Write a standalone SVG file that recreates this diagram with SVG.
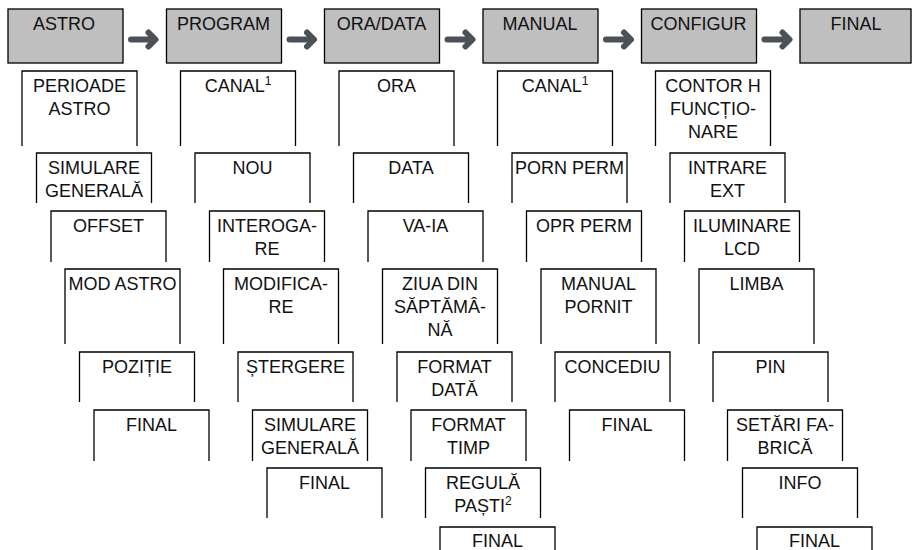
<svg xmlns="http://www.w3.org/2000/svg" width="912" height="550" viewBox="0 0 912 550">
<defs>
<style>
.hdr{fill:#bfbfbf;stroke:#000;stroke-width:1.3}
.sub{fill:none;stroke:#000;stroke-width:1.3}
text{font-family:"Liberation Sans",Arial,Helvetica,sans-serif;font-size:18px;fill:#111;text-anchor:middle}
.sup{font-size:12px}
.arr{fill:none;stroke:#4b5157;stroke-width:6;stroke-linecap:round;stroke-linejoin:round}
</style>
</defs>
<rect width="912" height="550" fill="#fff"/>
<g id="connectors">
<path class="arr" d="M131 39.5H155M148.5 32.5L155.5 39.5L148.5 46.5"/>
<path class="arr" d="M289.5 39.5H313.5M307 32.5L314 39.5L307 46.5"/>
<path class="arr" d="M447.5 39.5H472M465.5 32.5L472.5 39.5L465.5 46.5"/>
<path class="arr" d="M606 39.5H630.5M624 32.5L631 39.5L624 46.5"/>
<path class="arr" d="M764.5 39.5H789M782.5 32.5L789.5 39.5L782.5 46.5"/>
</g>
<g id="h-astro"><rect class="hdr" x="8" y="9" width="115" height="54"/><text x="64" y="30">ASTRO</text></g>
<g id="h-program"><rect class="hdr" x="166.5" y="9" width="115" height="54"/><text x="223.5" y="30">PROGRAM</text></g>
<g id="h-oradata"><rect class="hdr" x="324.5" y="9" width="115" height="54"/><text x="381.5" y="30">ORA/DATA</text></g>
<g id="h-manual"><rect class="hdr" x="483" y="9" width="115" height="54"/><text x="540" y="30">MANUAL</text></g>
<g id="h-configur"><rect class="hdr" x="641.5" y="9" width="115" height="54"/><text x="698.5" y="30">CONFIGUR</text></g>
<g id="h-final"><rect class="hdr" x="800" y="9" width="111" height="54"/><text x="856" y="30">FINAL</text></g>

<g id="a0"><path class="sub" d="M22 146V71H137V146"/><text x="79.5" y="92">PERIOADE</text><text x="79.5" y="115">ASTRO</text></g>
<g id="a1"><path class="sub" d="M36.5 203V153H151.5V203"/><text x="94" y="174">SIMULARE</text><text x="94" y="197">GENERALĂ</text></g>
<g id="a2"><path class="sub" d="M51 262V211H166V262"/><text x="108.5" y="232">OFFSET</text></g>
<g id="a3"><path class="sub" d="M65 344V269H180V344"/><text x="122.5" y="290">MOD ASTRO</text></g>
<g id="a4"><path class="sub" d="M79.5 402V352H194.5V402"/><text x="137" y="373">POZIȚIE</text></g>
<g id="a5"><path class="sub" d="M94 461V410H209V461"/><text x="151.5" y="431">FINAL</text></g>

<g id="p0"><path class="sub" d="M180.5 146V71H295.5V146"/><text x="238" y="92">CANAL<tspan class="sup" dy="-7">1</tspan></text></g>
<g id="p1"><path class="sub" d="M195 203V153H310V203"/><text x="252.5" y="174">NOU</text></g>
<g id="p2"><path class="sub" d="M209.5 262V211H324.5V262"/><text x="267" y="232">INTEROGA-</text><text x="267" y="255">RE</text></g>
<g id="p3"><path class="sub" d="M223.5 344V269H338.5V344"/><text x="281" y="290">MODIFICA-</text><text x="281" y="313">RE</text></g>
<g id="p4"><path class="sub" d="M238 402V352H353V402"/><text x="295.5" y="373">ȘTERGERE</text></g>
<g id="p5"><path class="sub" d="M252.5 461V410H367.5V461"/><text x="310" y="431">SIMULARE</text><text x="310" y="454">GENERALĂ</text></g>
<g id="p6"><path class="sub" d="M267 518V468H382V518"/><text x="324.5" y="489">FINAL</text></g>

<g id="o0"><path class="sub" d="M339 146V71H454V146"/><text x="396.5" y="92">ORA</text></g>
<g id="o1"><path class="sub" d="M353.5 203V153H468.5V203"/><text x="411" y="174">DATA</text></g>
<g id="o2"><path class="sub" d="M368 262V211H483V262"/><text x="425.5" y="232">VA-IA</text></g>
<g id="o3"><path class="sub" d="M382.5 344V269H497.5V344"/><text x="440" y="290">ZIUA DIN</text><text x="440" y="313">SĂPTĂMÂ-</text><text x="440" y="336">NĂ</text></g>
<g id="o4"><path class="sub" d="M397 402V352H512V402"/><text x="454.5" y="373">FORMAT</text><text x="454.5" y="396">DATĂ</text></g>
<g id="o5"><path class="sub" d="M411 461V410H526V461"/><text x="468.5" y="431">FORMAT</text><text x="468.5" y="454">TIMP</text></g>
<g id="o6"><path class="sub" d="M425.5 518V468H540.5V518"/><text x="483" y="489">REGULĂ</text><text x="483" y="512">PAȘTI<tspan class="sup" dy="-7">2</tspan></text></g>
<g id="o7"><path class="sub" d="M440 552V527H555V552"/><text x="497.5" y="547">FINAL</text></g>

<g id="m0"><path class="sub" d="M497.5 146V71H612.5V146"/><text x="555" y="92">CANAL<tspan class="sup" dy="-7">1</tspan></text></g>
<g id="m1"><path class="sub" d="M512 203V153H627V203"/><text x="569.5" y="174">PORN PERM</text></g>
<g id="m2"><path class="sub" d="M526.5 262V211H641.5V262"/><text x="584" y="232">OPR PERM</text></g>
<g id="m3"><path class="sub" d="M541 344V269H656V344"/><text x="598.5" y="290">MANUAL</text><text x="598.5" y="313">PORNIT</text></g>
<g id="m4"><path class="sub" d="M555 402V352H670V402"/><text x="612.5" y="373">CONCEDIU</text></g>
<g id="m5"><path class="sub" d="M569.5 461V410H684.5V461"/><text x="627" y="431">FINAL</text></g>

<g id="c0"><path class="sub" d="M655.5 146V71H770.5V146"/><text x="713" y="92">CONTOR H</text><text x="713" y="115">FUNCȚIO-</text><text x="713" y="138">NARE</text></g>
<g id="c1"><path class="sub" d="M670 203V153H785V203"/><text x="727.5" y="174">INTRARE</text><text x="727.5" y="197">EXT</text></g>
<g id="c2"><path class="sub" d="M684.5 262V211H799.5V262"/><text x="742" y="232">ILUMINARE</text><text x="742" y="255">LCD</text></g>
<g id="c3"><path class="sub" d="M699 344V269H814V344"/><text x="756.5" y="290">LIMBA</text></g>
<g id="c4"><path class="sub" d="M713 402V352H828V402"/><text x="770.5" y="373">PIN</text></g>
<g id="c5"><path class="sub" d="M727.5 461V410H842.5V461"/><text x="785" y="431">SETĂRI FA-</text><text x="785" y="454">BRICĂ</text></g>
<g id="c6"><path class="sub" d="M742.5 518V468H857.5V518"/><text x="800" y="489">INFO</text></g>
<g id="c7"><path class="sub" d="M757 552V527H872V552"/><text x="814.5" y="547">FINAL</text></g>
</svg>
